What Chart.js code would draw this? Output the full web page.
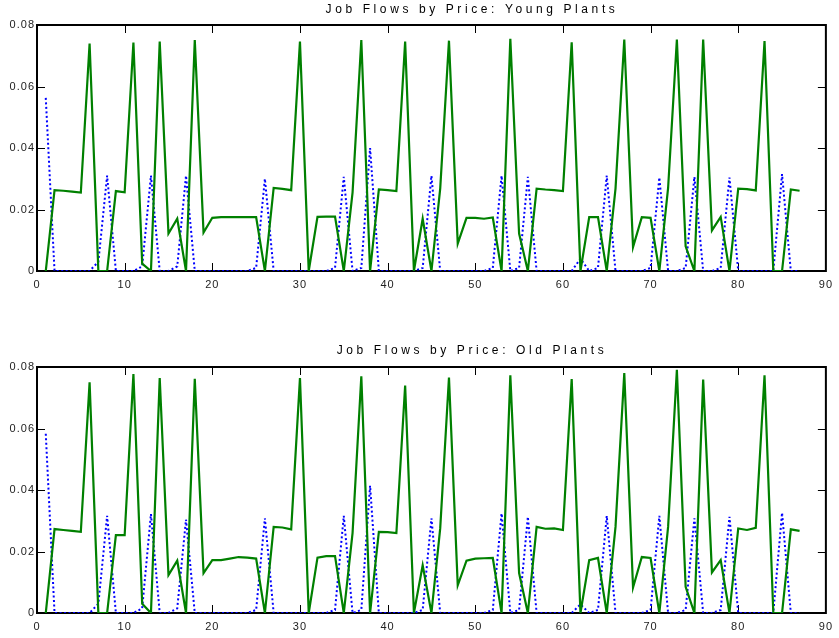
<!DOCTYPE html>
<html>
<head>
<meta charset="utf-8">
<script src="https://cdn.jsdelivr.net/npm/chart.js@4.4.1/dist/chart.umd.min.js"></script>
<style>
  body { margin: 0; background: #fff; }
  .panel { position: absolute; left: 0; width: 839px; }
</style>
</head>
<body>
<div class="panel" style="top:0"><canvas id="youngChart" width="839" height="296"></canvas></div>
<div class="panel" style="top:342px"><canvas id="oldChart" width="839" height="296"></canvas></div>
<script>
// price index (x axis)
const periods = [
   1,  2,  3,  4,  5,  6,  7,  8,  9, 10, 11, 12, 13, 14, 15, 16, 17, 18, 19, 20,
  21, 22, 23, 24, 25, 26, 27, 28, 29, 30, 31, 32, 33, 34, 35, 36, 37, 38, 39, 40,
  41, 42, 43, 44, 45, 46, 47, 48, 49, 50, 51, 52, 53, 54, 55, 56, 57, 58, 59, 60,
  61, 62, 63, 64, 65, 66, 67, 68, 69, 70, 71, 72, 73, 74, 75, 76, 77, 78, 79, 80,
  81, 82, 83, 84, 85, 86, 87
];

// young plants: creation (green) and destruction (blue dotted)
const youngCreation = [
  0, 0.0263, 0.0261, 0.0258, 0.0255, 0.0740, 0, 0, 0.0260, 0.0256,
  0.0743, 0.0024, 0, 0.0746, 0.0122, 0.0170, 0, 0.0751, 0.0125, 0.0173,
  0.0175, 0.0175, 0.0175, 0.0175, 0.0175, 0, 0.0270, 0.0267, 0.0263, 0.0746,
  0, 0.0176, 0.0177, 0.0177, 0, 0.0255, 0.0751, 0, 0.0265, 0.0263,
  0.0260, 0.0746, 0, 0.0170, 0, 0.0268, 0.0749, 0.0089, 0.0173, 0.0173,
  0.0170, 0.0174, 0, 0.0755, 0.0122, 0, 0.0268, 0.0265, 0.0263, 0.0260,
  0.0744, 0, 0.0175, 0.0175, 0, 0.0268, 0.0753, 0.0078, 0.0175, 0.0173,
  0, 0.0270, 0.0753, 0.0080, 0, 0.0753, 0.0132, 0.0176, 0, 0.0268,
  0.0266, 0.0262, 0.0748, 0, 0, 0.0265, 0.0261
];
const youngDestruction = [
  0.0563, 0, 0, 0, 0, 0, 0.003, 0.0310, 0, 0,
  0, 0.0015, 0.0310, 0, 0, 0.0015, 0.0310, 0, 0, 0,
  0, 0, 0, 0, 0.001, 0.0300, 0, 0, 0, 0,
  0, 0, 0, 0.001, 0.0306, 0, 0.001, 0.0400, 0, 0,
  0, 0, 0, 0.001, 0.0310, 0, 0, 0, 0, 0,
  0, 0.001, 0.0310, 0, 0.001, 0.0306, 0, 0, 0, 0,
  0, 0.004, 0, 0.001, 0.0310, 0, 0, 0, 0, 0.001,
  0.0304, 0, 0, 0.001, 0.0306, 0, 0, 0.001, 0.0304, 0,
  0, 0, 0, 0, 0.0315, 0, 0
];

// old plants
const oldCreation = [
  0, 0.0273, 0.0270, 0.0267, 0.0264, 0.0750, 0, 0, 0.0253, 0.0253,
  0.0777, 0.0030, 0, 0.0764, 0.0123, 0.0170, 0, 0.0762, 0.0130, 0.0172,
  0.0172, 0.0177, 0.0182, 0.0180, 0.0177, 0, 0.0280, 0.0278, 0.0272, 0.0764,
  0, 0.0180, 0.0185, 0.0185, 0, 0.0260, 0.0770, 0, 0.0264, 0.0263,
  0.0260, 0.0740, 0, 0.0155, 0, 0.0275, 0.0766, 0.0090, 0.0170, 0.0177,
  0.0178, 0.0179, 0, 0.0773, 0.0130, 0, 0.0280, 0.0274, 0.0275, 0.0270,
  0.0761, 0, 0.0172, 0.0179, 0, 0.0280, 0.0780, 0.0083, 0.0182, 0.0179,
  0, 0.0280, 0.0791, 0.0085, 0, 0.0759, 0.0132, 0.0172, 0, 0.0275,
  0.0270, 0.0277, 0.0773, 0, 0, 0.0272, 0.0267
];
const oldDestruction = [
  0.0583, 0, 0, 0, 0, 0, 0.003, 0.0316, 0, 0,
  0, 0.0015, 0.0322, 0, 0, 0.0015, 0.0304, 0, 0, 0,
  0, 0, 0, 0, 0.001, 0.0308, 0, 0, 0, 0,
  0, 0, 0, 0.001, 0.0316, 0, 0.001, 0.0414, 0, 0,
  0, 0, 0, 0.001, 0.0308, 0, 0, 0, 0, 0,
  0, 0.001, 0.0324, 0, 0.001, 0.0313, 0, 0, 0, 0,
  0, 0.0028, 0, 0.001, 0.0316, 0, 0, 0, 0, 0.001,
  0.0316, 0, 0, 0.001, 0.0308, 0, 0, 0.001, 0.0313, 0,
  0, 0, 0, 0, 0.0326, 0, 0
];

const xTicks = [0, 10, 20, 30, 40, 50, 60, 70, 80, 90];
const yTicks = [0, 0.02, 0.04, 0.06, 0.08];

const FONT = 'Liberation Sans, Arial, Helvetica, sans-serif';

// box around the plot with inward tick marks on all four sides, plus the title
const boxAndTitle = {
  id: 'boxAndTitle',
  beforeDraw(chart) {
    chart.ctx.letterSpacing = '1px';
  },
  beforeDatasetsDraw(chart) {
    const { ctx, chartArea: a, scales } = chart;
    const len = 8;
    ctx.save();
    ctx.strokeStyle = '#000';
    ctx.lineWidth = 1;
    ctx.beginPath();
    xTicks.slice(1, -1).forEach(v => {
      const px = Math.round(scales.x.getPixelForValue(v)) + 0.5;
      ctx.moveTo(px, a.top); ctx.lineTo(px, a.top + len);
      ctx.moveTo(px, a.bottom); ctx.lineTo(px, a.bottom - len);
    });
    yTicks.slice(1, -1).forEach(v => {
      const py = Math.round(scales.y.getPixelForValue(v)) + 0.5;
      ctx.moveTo(a.left, py); ctx.lineTo(a.left + len, py);
      ctx.moveTo(a.right, py); ctx.lineTo(a.right - len, py);
    });
    ctx.stroke();
    ctx.lineWidth = 2;
    ctx.strokeRect(a.left, a.top, a.right - a.left, a.bottom - a.top);
    ctx.restore();
  },
  afterDraw(chart, args, opts) {
    const ctx = chart.ctx;
    ctx.save();
    ctx.letterSpacing = '3.6px';
    ctx.font = '12px ' + FONT;
    ctx.fillStyle = '#000';
    ctx.textAlign = 'center';
    ctx.textBaseline = 'alphabetic';
    ctx.fillText(opts.text, 472, opts.y);
    ctx.restore();
  }
};

function makeChart(id, title, titleY, creation, destruction) {
  return new Chart(document.getElementById(id), {
    type: 'line',
    data: {
      datasets: [
        {
          data: periods.map((p, i) => ({ x: p, y: creation[i] })),
          borderColor: '#008000',
          borderWidth: 2.2,
          pointRadius: 0,
          tension: 0
        },
        {
          data: periods.map((p, i) => ({ x: p, y: destruction[i] })),
          borderColor: '#0000ff',
          borderWidth: 2,
          borderDash: [2, 2.5],
          pointRadius: 0,
          tension: 0
        }
      ]
    },
    options: {
      responsive: false,
      animation: false,
      devicePixelRatio: 1,
      layout: { padding: { top: 25, right: 9, left: 0, bottom: 0 } },
      plugins: {
        legend: { display: false },
        tooltip: { enabled: false },
        boxAndTitle: { text: title, y: titleY }
      },
      scales: {
        x: {
          type: 'linear',
          min: 0, max: 90,
          grid: { display: false, drawTicks: false },
          border: { display: false },
          ticks: { color: '#222', font: { family: FONT, size: 11 }, padding: 7, maxRotation: 0 },
          afterBuildTicks: s => { s.ticks = xTicks.map(v => ({ value: v })); },
          afterFit: s => { s.height = 25; }
        },
        y: {
          min: 0, max: 0.08,
          grid: { display: false, drawTicks: false },
          border: { display: false },
          ticks: {
            color: '#222', font: { family: FONT, size: 11 }, padding: 2,
            callback: v => (v === 0 ? '0' : v.toFixed(2))
          },
          afterBuildTicks: s => { s.ticks = yTicks.map(v => ({ value: v })); },
          afterFit: s => { s.width = 37; }
        }
      }
    },
    plugins: [boxAndTitle]
  });
}

makeChart('youngChart', 'Job Flows by Price: Young Plants', 13, youngCreation, youngDestruction);
makeChart('oldChart', 'Job Flows by Price: Old Plants', 12, oldCreation, oldDestruction);
</script>
</body>
</html>
